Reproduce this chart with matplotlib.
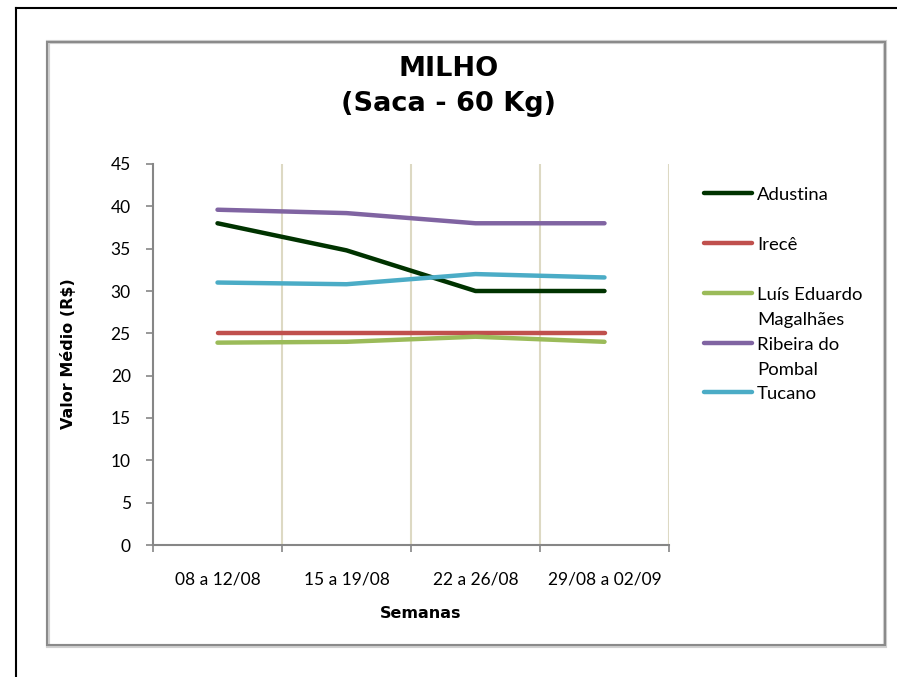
import matplotlib.pyplot as plt
from matplotlib.lines import Line2D
from matplotlib.patches import Rectangle

semanas = ['08 a 12/08', '15 a 19/08', '22 a 26/08', '29/08 a 02/09']
adustina = [38.0, 34.8, 30.0, 30.0]
irece = [25.0, 25.0, 25.0, 25.0]
lem = [23.9, 24.0, 24.6, 24.0]
ribeira = [39.6, 39.2, 38.0, 38.0]
tucano = [31.0, 30.8, 32.0, 31.6]

series = [
    ('Adustina', adustina, '#003300'),
    ('Irecê', irece, '#c0504d'),
    ('Luís Eduardo\nMagalhães', lem, '#9bbb59'),
    ('Ribeira do\nPombal', ribeira, '#8064a2'),
    ('Tucano', tucano, '#4bacc6'),
]

W, H = 897, 677
fig = plt.figure(figsize=(W / 100, H / 100), dpi=100)

def fx(px):
    return px / W

def fy(py):
    return 1 - py / H

# outer page frame (top and left only)
fig.add_artist(Line2D([fx(16), 1], [fy(8), fy(8)], color='black', lw=1.5))
fig.add_artist(Line2D([fx(16), fx(16)], [fy(8), 0], color='black', lw=1.5))
# chart frame
fig.add_artist(Rectangle((fx(48), fy(646)), fx(885) - fx(48), fy(42) - fy(646),
                         fill=False, edgecolor='#d0d0d0', lw=3, transform=fig.transFigure))
fig.add_artist(Rectangle((fx(47), fy(645)), fx(885) - fx(47), fy(42) - fy(645),
                         fill=False, edgecolor='#8a8a8a', lw=1.5, transform=fig.transFigure))

ax = fig.add_axes([fx(153), fy(545), fx(669) - fx(153), fy(164) - fy(545)])
x = range(len(semanas))
for name, vals, col in series:
    ax.plot(x, vals, color=col, lw=3.2, solid_capstyle='round', solid_joinstyle='round')

ax.set_xlim(-0.5, len(semanas) - 0.5)
ax.set_ylim(0, 45)
ax.set_yticks(range(0, 46, 5))
bounds = [i - 0.5 for i in range(len(semanas) + 1)]
ax.set_xticks(bounds)
ax.set_xticklabels([])
ax.set_xticks(list(x), minor=True)
ax.set_xticklabels(semanas, minor=True, fontsize=12.5, family='Lato')
for b in bounds[1:]:
    ax.axvline(b, color='#ddd9c3', lw=1.5, zorder=0)

for s in ['top', 'right']:
    ax.spines[s].set_visible(False)
for s in ['left', 'bottom']:
    ax.spines[s].set_color('#868686')
    ax.spines[s].set_linewidth(1.5)
ax.tick_params(axis='both', which='major', direction='out', length=5, width=1.2, color='#868686')
ax.tick_params(axis='y', labelsize=12.5, pad=11)
ax.tick_params(axis='x', which='minor', length=0, pad=19)
for t in ax.get_yticklabels():
    t.set_family('Lato')

fig.text(0.5, fy(69), 'MILHO', ha='center', va='center', fontsize=19.5,
         fontweight='bold', family='DejaVu Sans')
fig.text(0.5, fy(104), '(Saca - 60 Kg)', ha='center', va='center', fontsize=19.5,
         fontweight='bold', family='DejaVu Sans')
fig.text(fx(68), fy(354), 'Valor Médio (R$)', rotation=90, ha='center', va='center',
         fontsize=11.5, fontweight='bold', family='DejaVu Sans')
fig.text(fx(421), fy(613), 'Semanas', ha='center', va='center', fontsize=11.5,
         fontweight='bold', family='DejaVu Sans')

# legend
leg_y = [193, 243, 293, 343, 392]
for (name, vals, col), yy in zip(series, leg_y):
    fig.add_artist(Line2D([fx(704), fx(752)], [fy(yy), fy(yy)], color=col, lw=3.2,
                          solid_capstyle='round'))
    for i, part in enumerate(name.split('\n')):
        fig.text(fx(757), fy(yy + 2 + 25 * i), part, ha='left', va='center',
                 fontsize=13.3, family='Lato')

fig.savefig('out.png', dpi=100)
